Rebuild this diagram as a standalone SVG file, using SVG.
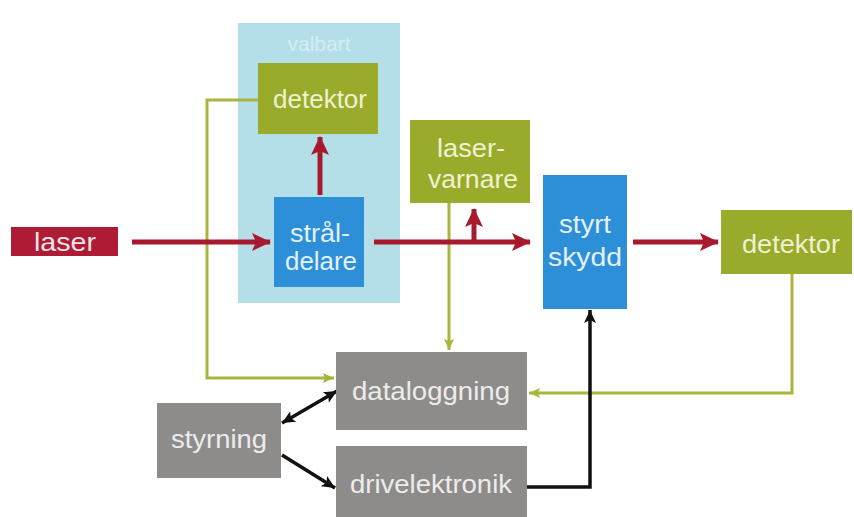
<svg xmlns="http://www.w3.org/2000/svg" width="854" height="517" viewBox="0 0 854 517">
<defs>
<style>
.t{font-family:"Liberation Sans",Arial,sans-serif;font-size:25px;text-anchor:middle}
.tg{fill:#eef2d0}
.tb{fill:#e4f0fa}
.tq{fill:#ececec}
.olive{fill:#9aab2c}
.blue{fill:#2d8fd8}
.gray{fill:#8e8c8a}
.red{stroke:#a8192e;stroke-width:5;fill:none}
.grn{stroke:#a9b53c;stroke-width:3;fill:none}
.blk{stroke:#111;stroke-width:3.5;fill:none}
</style>
<marker id="ar" markerUnits="userSpaceOnUse" markerWidth="20" markerHeight="20" refX="18" refY="10" orient="auto"><path d="M0,1 L19,10 L0,19 L4,10 Z" fill="#a8192e"/></marker>
<marker id="ag" markerUnits="userSpaceOnUse" markerWidth="12" markerHeight="12" refX="11" refY="6" orient="auto"><path d="M0,1 L11,6 L0,11 L2,6 Z" fill="#a9b53c"/></marker>
<marker id="ak" markerUnits="userSpaceOnUse" markerWidth="14" markerHeight="14" refX="13" refY="7" orient="auto-start-reverse"><path d="M0,1 L13,7 L0,13 L3,7 Z" fill="#111"/></marker>
</defs>
<rect width="854" height="517" fill="#ffffff"/>
<g id="valbart">
<rect x="238" y="23" width="162" height="280" fill="#b5dfe8"/>
<text x="319" y="51" style="font-family:'Liberation Sans',Arial,sans-serif;font-size:21px;text-anchor:middle;fill:#d5edf3">valbart</text>
</g>
<g id="connectors">
<path class="grn" d="M258,100 H207 V378 H334" marker-end="url(#ag)"/>
<path class="grn" d="M449,203 V350" marker-end="url(#ag)"/>
<path class="grn" d="M792,274 V393 H529" marker-end="url(#ag)"/>
<path class="red" d="M132,242 H270" marker-end="url(#ar)"/>
<path class="red" d="M320,195 V137" marker-end="url(#ar)"/>
<path class="red" d="M374,242 H530" marker-end="url(#ar)"/>
<path class="red" d="M474,242 V209" marker-end="url(#ar)"/>
<path class="red" d="M633,242 H718" marker-end="url(#ar)"/>
<path class="blk" d="M527,487 H590 V310" marker-end="url(#ak)"/>
<path class="blk" d="M282,423 L337,391" marker-start="url(#ak)" marker-end="url(#ak)"/>
<path class="blk" d="M282,455 L335,488" marker-end="url(#ak)"/>
</g>
<g id="laser">
<rect x="11" y="227" width="107" height="29" fill="#ad1b35"/>
<text class="t" x="65" y="251" fill="#f3e3e6" textLength="62" lengthAdjust="spacingAndGlyphs">laser</text>
</g>
<g id="detektor1">
<rect class="olive" x="258" y="63" width="120" height="71"/>
<text class="t tg" x="320" y="108" textLength="94" lengthAdjust="spacingAndGlyphs">detektor</text>
</g>
<g id="straldelare">
<rect class="blue" x="274" y="197" width="90" height="90"/>
<text class="t tb" x="320" y="242" textLength="60" lengthAdjust="spacingAndGlyphs">strål-</text>
<text class="t tb" x="321" y="270" textLength="72" lengthAdjust="spacingAndGlyphs">delare</text>
</g>
<g id="laservarnare">
<rect class="olive" x="410" y="120" width="120" height="83"/>
<text class="t tg" x="471" y="157" textLength="68" lengthAdjust="spacingAndGlyphs">laser-</text>
<text class="t tg" x="473" y="188" textLength="90" lengthAdjust="spacingAndGlyphs">varnare</text>
</g>
<g id="styrtskydd">
<rect class="blue" x="543" y="175" width="84" height="134"/>
<text class="t tb" x="585" y="233" textLength="52" lengthAdjust="spacingAndGlyphs">styrt</text>
<text class="t tb" x="585" y="266" textLength="74" lengthAdjust="spacingAndGlyphs">skydd</text>
</g>
<g id="detektor2">
<rect class="olive" x="721" y="210" width="131" height="64"/>
<text class="t tg" x="791" y="253" textLength="98" lengthAdjust="spacingAndGlyphs">detektor</text>
</g>
<g id="dataloggning">
<rect class="gray" x="336" y="352" width="191" height="78"/>
<text class="t tq" x="431" y="400" textLength="158" lengthAdjust="spacingAndGlyphs">dataloggning</text>
</g>
<g id="styrning">
<rect class="gray" x="157" y="403" width="124" height="75"/>
<text class="t tq" x="219" y="448" textLength="96" lengthAdjust="spacingAndGlyphs">styrning</text>
</g>
<g id="drivelektronik">
<rect class="gray" x="336" y="446" width="191" height="71"/>
<text class="t tq" x="431" y="493" textLength="162" lengthAdjust="spacingAndGlyphs">drivelektronik</text>
</g>
</svg>
